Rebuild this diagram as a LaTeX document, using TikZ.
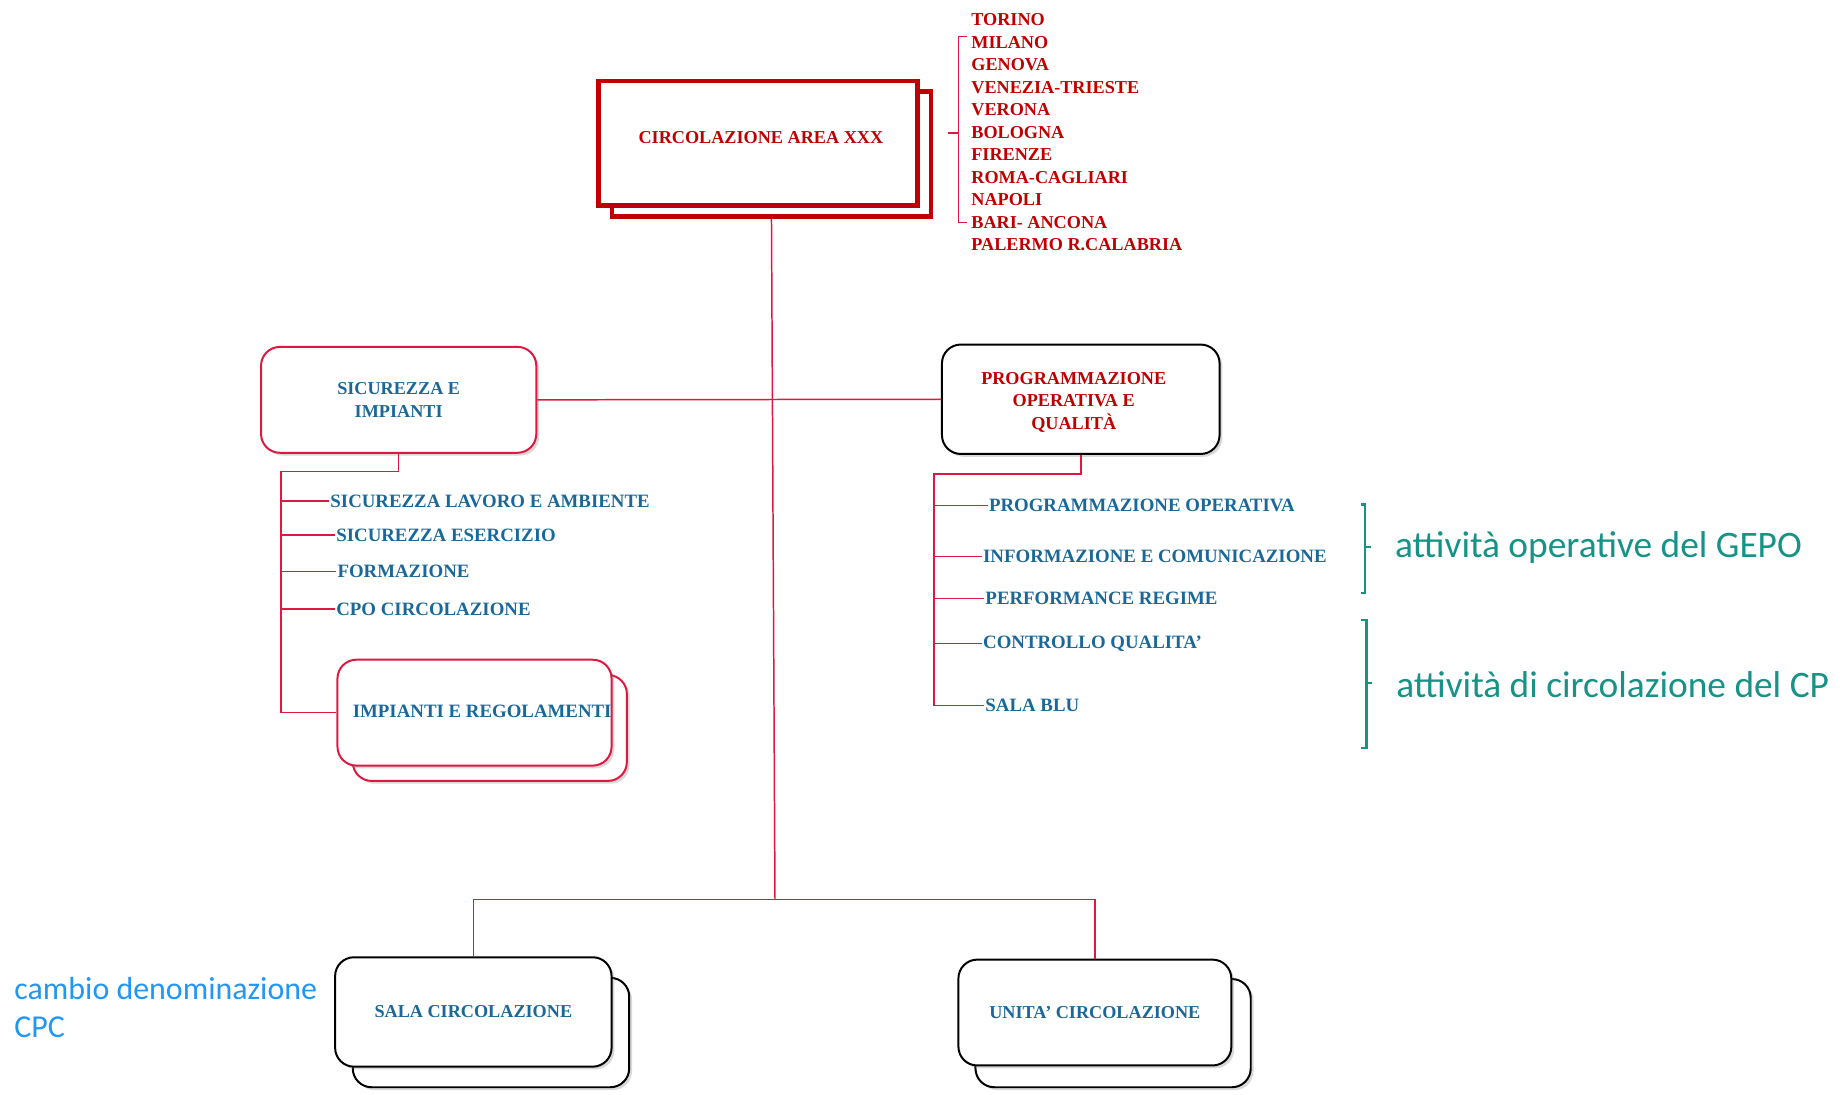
\documentclass[tikz,border=0pt]{standalone}
\usepackage{fontspec}
\setmainfont{Liberation Serif}
\newfontfamily\notefont{Carlito}
\usetikzlibrary{shadows}

\definecolor{darkred}{RGB}{192,0,0}
\definecolor{linkred}{RGB}{222,24,64}
\definecolor{itemblue}{RGB}{27,104,152}
\definecolor{noteteal}{RGB}{22,146,134}
\definecolor{noteblue}{RGB}{33,150,243}

\tikzset{
  link/.style={linkred, line width=0.9pt},
  mainbox/.style={draw=darkred, fill=white, line width=2.8pt, minimum width=6.775cm, minimum height=2.65cm},
  orgbox/.style={draw, fill=white, rounded corners=0.4cm, line width=1.2pt, align=center,
    text=itemblue, font=\fontsize{11}{13.6}\selectfont\bfseries,
    drop shadow={opacity=0.3, shadow xshift=0.6mm, shadow yshift=-0.6mm}},
  redbox/.style={orgbox, draw=linkred},
  boxtext/.style={align=center, inner sep=0pt, font=\fontsize{11}{13.6}\selectfont\bfseries},
  item/.style={anchor=west, inner sep=0.5pt, text=itemblue, font=\fontsize{11.4}{13.6}\selectfont\bfseries},
  city/.style={item, text=darkred, font=\fontsize{11}{13.6}\selectfont\bfseries},
  note/.style={anchor=west, inner sep=0pt, text=noteteal, font=\notefont\fontsize{22.6}{27}\selectfont},
  bracket/.style={noteteal, line width=1.3pt},
}

\begin{document}
\begin{tikzpicture}[x=0.025cm, y=-0.025cm]
\useasboundingbox (0,0) rectangle (1568,931);

% vertice
\node[mainbox] (mainb) at (656,131) {};
\node[mainbox] (main) at (644.5,122) {};
\node[boxtext, text=darkred] (maintxt) at (647,117) {CIRCOLAZIONE AREA XXX};
\foreach \city [count=\i] in {TORINO, MILANO, GENOVA, VENEZIA-TRIESTE, VERONA, BOLOGNA,
  FIRENZE, ROMA-CAGLIARI, NAPOLI, BARI- ANCONA, PALERMO R.CALABRIA}
  \node[city] (c\i) at (825,{17+19.1*(\i-1)}) {\city};
\draw[link] (822,31) -- (815,31) -- (815,189) -- (822,189) (815,113) -- (806,113);

% primo livello
\node[redbox, minimum width=5.85cm, minimum height=2.25cm] (sic) at (339,340) {SICUREZZA E\\IMPIANTI};
\node[orgbox, minimum width=5.9cm, minimum height=2.325cm] (prog) at (919,339.5) {};
\node[boxtext, text=darkred] (progtxt) at (913,342) {PROGRAMMAZIONE\\OPERATIVA E\\QUALITÀ};
\coordinate (bjoin) at (659,765);
\draw[link] (mainb.south) -- (bjoin);
\draw[link] (sic.east) -- (prog.west);

% sicurezza e impianti
\node[redbox, minimum width=5.825cm, minimum height=2.25cm] (irb) at (416.5,619) {};
\node[redbox, minimum width=5.825cm, minimum height=2.25cm] (ir) at (403.5,606) {};
\node[boxtext, text=itemblue, font=\fontsize{11.4}{13.6}\selectfont\bfseries] (irtxt) at (410,605)
  {IMPIANTI E REGOLAMENTI};
\node[item] (slav) at (280,426) {SICUREZZA LAVORO E AMBIENTE};
\node[item] (sese) at (285,455) {SICUREZZA ESERCIZIO};
\node[item] (sfor) at (286,486) {FORMAZIONE};
\node[item] (scpo) at (285,518) {CPO CIRCOLAZIONE};
\coordinate (lknee) at (239,401);
\draw[link] (sic.south) |- (lknee) |- (ir.west);
\foreach \n in {slav,sese,sfor,scpo}
  \draw[link] (lknee |- \n.west) -- (\n.west);

% programmazione operativa
\node[item] (pop) at (840,430) {PROGRAMMAZIONE OPERATIVA};
\node[item] (pinf) at (835,473) {INFORMAZIONE E COMUNICAZIONE};
\node[item] (pper) at (837,509) {PERFORMANCE REGIME};
\node[item] (pcq) at (835,547) {CONTROLLO QUALITA’};
\node[item] (psb) at (837,600) {SALA BLU};
\coordinate (rknee) at (794,403);
\draw[link] (prog.south) |- (rknee) |- (psb.west);
\foreach \n in {pop,pinf,pper,pcq}
  \draw[link] (rknee |- \n.west) -- (\n.west);

% note
\draw[bracket] (1157,429) -- (1161,429) -- (1161,504) -- (1157,504) (1161,465) -- (1166,465);
\draw[bracket] (1157,527) -- (1162,527) -- (1162,636) -- (1157,636) (1162,581) -- (1167,581);
\node[note] (gepo) at (1186,466) {attività operative del GEPO};
\node[note] (cp) at (1187,582) {attività di circolazione del CP};
\node[note, text=noteblue, align=left, font=\notefont\fontsize{19.3}{22.8}\selectfont] (cpc) at (12,857)
  {cambio denominazione\\CPC};

% secondo livello
\node[orgbox, minimum width=5.875cm, minimum height=2.325cm] (salab) at (417.5,878) {};
\node[orgbox, minimum width=5.875cm, minimum height=2.325cm] (sala) at (402.5,860.5) {SALA CIRCOLAZIONE};
\node[orgbox, minimum width=5.85cm, minimum height=2.3cm] (unitab) at (946.5,878.5) {};
\node[orgbox, minimum width=5.8cm, minimum height=2.25cm] (unita) at (931,861) {UNITA’ CIRCOLAZIONE};
\draw[link] (sala.north) |- (bjoin) -| (unita.north);
\end{tikzpicture}
\end{document}
